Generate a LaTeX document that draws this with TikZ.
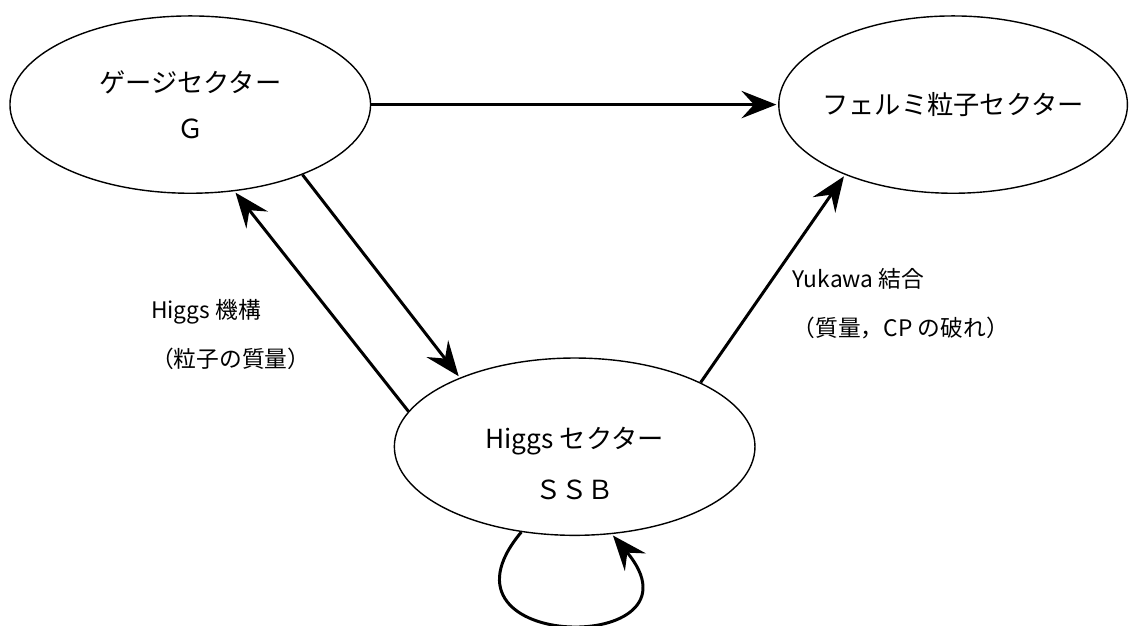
\documentclass[tikz,border=0pt]{standalone}
\usepackage{fontspec}
\setmainfont{Noto Sans CJK JP}
\usetikzlibrary{arrows.meta, shapes, calc}

\begin{document}
\begin{tikzpicture}[->,>={Stealth[length=7mm,width=5.5mm,inset=2.5mm]},shorten >=1pt,auto,
 line width=1.7pt]

  \matrix[nodes={draw, shape=ellipse, line width=0.8pt, minimum width=7.24cm, minimum height=3.56cm,
                 inner sep=0pt, align=center, font=\fontsize{15}{18}\selectfont},
          row sep=3.28cm, column sep=0.45cm, ampersand replacement=\&] {
   \node (gauge) {ゲージセクター\\[3mm]Ｇ};
   \&
   \&
   \node[minimum width=7cm, inner xsep=-4mm] (fermion) {フェルミ粒子セクター}; \\
   \&
   \node (higgs) {\rule{0pt}{1.1cm}Higgs セクター\\[4mm]ＳＳＢ};
   \& \\
  };

  \useasboundingbox ($(gauge.center)+(-3.82,2.1)$) rectangle ++(22.68,-12.56);

   \path
    (gauge.east) edge (fermion.west)
    (gauge.-32) edge (higgs.149)
    (higgs.168) edge node[pos=0.35, left=6mm, align=left, font=\fontsize{13}{28}\selectfont] (mech)
      {Higgs 機構\\（粒子の質量）} (gauge.-63)
    (higgs.27) edge node[pos=0.38, right=6mm, align=left, font=\fontsize{13}{28}\selectfont] (yukawa)
      {Yukawa 結合\\（質量，CP の破れ）} (fermion.213)
    (higgs.-122) edge[out=230, in=310, distance=3.2cm] (higgs.-67);
 \end{tikzpicture}
\end{document}
